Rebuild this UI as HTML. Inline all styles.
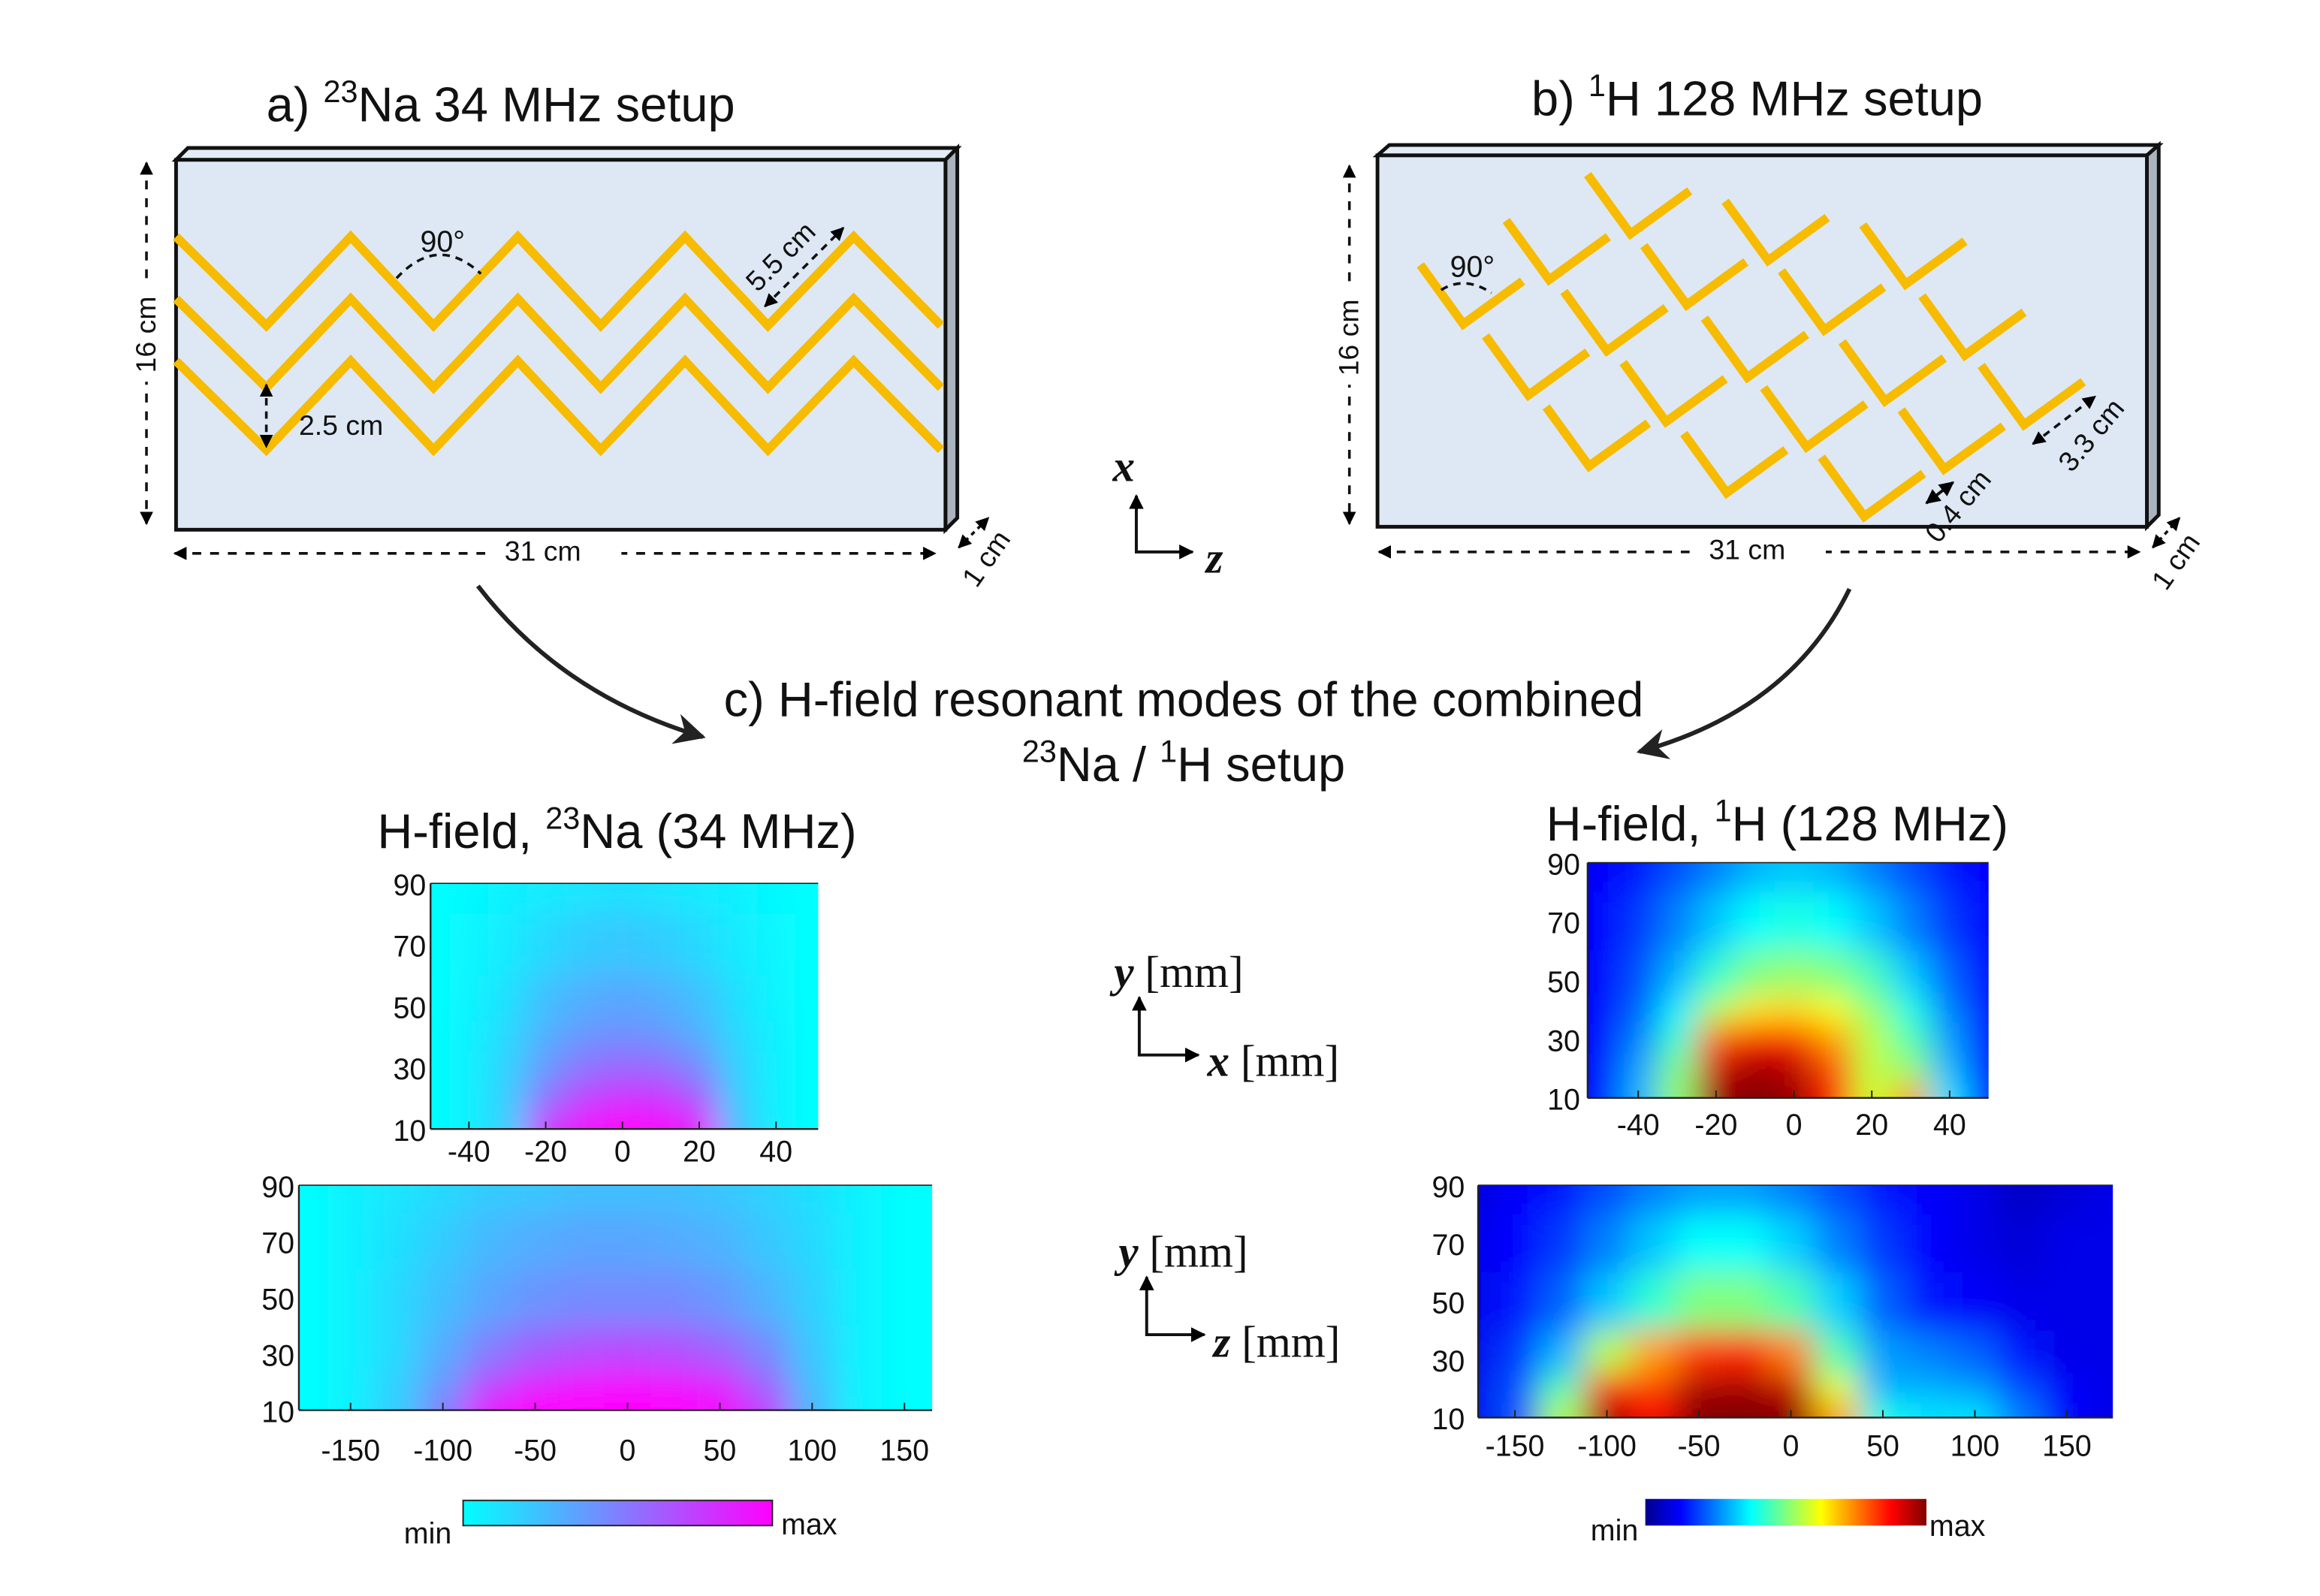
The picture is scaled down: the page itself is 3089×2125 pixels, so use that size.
<!DOCTYPE html>
<html><head><meta charset="utf-8"><style>
html,body{margin:0;padding:0;background:#fff}
svg{display:block}
text{font-family:"Liberation Sans",sans-serif;fill:#111}
.t{font-size:33px}
.ser{font-family:"Liberation Serif",serif;font-size:30px}
</style></head><body>
<svg id="fig" width="3089" height="2125" viewBox="0 0 1568 1078.6" preserveAspectRatio="none" xmlns="http://www.w3.org/2000/svg">
<defs>
<marker id="ah" viewBox="0 0 10 10" refX="9" refY="5" markerWidth="5" markerHeight="5" orient="auto-start-reverse"><path d="M0,0L10,5L0,10z" fill="#000"/></marker>
<marker id="ah2" viewBox="0 0 10 10" refX="9" refY="5" markerWidth="9" markerHeight="7" orient="auto"><path d="M0,0L10,5L0,10L3,5z" fill="#222"/></marker>
<filter id="bl" x="0" y="0" width="1" height="1"><feGaussianBlur stdDeviation="11" edgeMode="duplicate"/></filter>
<linearGradient id="cmL" x1="0" x2="1"><stop offset="0" stop-color="#00ffff"/><stop offset="1" stop-color="#ff00ff"/></linearGradient>
<linearGradient id="cmR" x1="0" x2="1"><stop offset="0" stop-color="#00008f"/><stop offset="0.125" stop-color="#0000ff"/><stop offset="0.375" stop-color="#00ffff"/><stop offset="0.625" stop-color="#ffff00"/><stop offset="0.875" stop-color="#ff0000"/><stop offset="1" stop-color="#800000"/></linearGradient>
</defs>

<g>
<text class="t" x="180" y="82">a)  <tspan font-size="21" dy="-13">23</tspan><tspan dy="13">Na 34 MHz setup</tspan></text>
<polygon points="119,108 127,100 647,100 639,108" fill="#e3ecf5" stroke="#111" stroke-width="2.5"/>
<polygon points="639,108 647,100 647,350 639,358" fill="#aab4be" stroke="#111" stroke-width="2.5"/>
<rect x="119" y="108" width="520" height="250" fill="#dde8f4" stroke="#111" stroke-width="2.5"/>
<g id="zig" fill="none" stroke="#f7bb00" stroke-width="6"></g>
<path d="M268,188 Q296,158 325,185" fill="none" stroke="#111" stroke-width="1.8" stroke-dasharray="5,4"/>
<text x="284" y="170" font-size="20">90°</text>
<line x1="517" y1="207" x2="570" y2="154" stroke="#111" stroke-width="1.8" stroke-dasharray="5,4" marker-start="url(#ah)" marker-end="url(#ah)"/>
<text x="0" y="0" font-size="19" transform="translate(512,198) rotate(-45)">5.5 cm</text>
<line x1="180" y1="260" x2="180" y2="302" stroke="#111" stroke-width="1.8" stroke-dasharray="5,4" marker-start="url(#ah)" marker-end="url(#ah)"/>
<text x="202" y="294" font-size="19">2.5 cm</text>
<line x1="99" y1="110" x2="99" y2="354" stroke="#111" stroke-width="1.8" stroke-dasharray="6,6" marker-start="url(#ah)" marker-end="url(#ah)"/>
<rect x="86" y="192" width="26" height="66" fill="#fff"/>
<text font-size="19" transform="translate(105,252) rotate(-90)">16 cm</text>
<line x1="118" y1="374" x2="632" y2="374" stroke="#111" stroke-width="1.8" stroke-dasharray="6,6" marker-start="url(#ah)" marker-end="url(#ah)"/>
<rect x="328" y="362" width="92" height="24" fill="#fff"/>
<text x="341" y="379" font-size="19">31 cm</text>
<line x1="648" y1="370" x2="668" y2="350" stroke="#111" stroke-width="1.8" stroke-dasharray="3,3" marker-start="url(#ah)" marker-end="url(#ah)"/>
<text font-size="19" transform="translate(660,398) rotate(-55)">1 cm</text>
</g>

<g>
<text class="ser" x="752" y="325" font-style="italic" font-weight="bold" font-size="28">x</text>
<polyline points="768,335 768,373 806,373" fill="none" stroke="#111" stroke-width="2" marker-start="url(#ah)" marker-end="url(#ah)"/>
<text class="ser" x="815" y="387" font-style="italic" font-weight="bold" font-size="28">z</text>
</g>

<g>
<text class="t" x="1035" y="78">b) <tspan font-size="21" dy="-13">1</tspan><tspan dy="13">H 128 MHz setup</tspan></text>
<polygon points="931,105 939,98 1459,98 1451,105" fill="#e3ecf5" stroke="#111" stroke-width="2.5"/>
<polygon points="1451,105 1459,98 1459,348 1451,356" fill="#aab4be" stroke="#111" stroke-width="2.5"/>
<rect x="931" y="105" width="520" height="251" fill="#dde8f4" stroke="#111" stroke-width="2.5"/>
<g id="vs" fill="none" stroke="#f7bb00" stroke-width="6" stroke-linejoin="miter"></g>
<path d="M974,196 Q990,186 1008,198" fill="none" stroke="#111" stroke-width="1.8" stroke-dasharray="5,4"/>
<text x="980" y="187" font-size="20">90°</text>
<line x1="1374" y1="300" x2="1416" y2="268" stroke="#111" stroke-width="1.8" stroke-dasharray="5,4" marker-start="url(#ah)" marker-end="url(#ah)"/>
<text font-size="19" transform="translate(1400,320) rotate(-50)">3.3 cm</text>
<line x1="1302" y1="340" x2="1320" y2="326" stroke="#111" stroke-width="2" marker-start="url(#ah)" marker-end="url(#ah)"/>
<text font-size="19" transform="translate(1310,368) rotate(-50)">0.4 cm</text>
<line x1="912" y1="112" x2="912" y2="354" stroke="#111" stroke-width="1.8" stroke-dasharray="6,6" marker-start="url(#ah)" marker-end="url(#ah)"/>
<rect x="899" y="194" width="26" height="66" fill="#fff"/>
<text font-size="19" transform="translate(918,254) rotate(-90)">16 cm</text>
<line x1="932" y1="373" x2="1446" y2="373" stroke="#111" stroke-width="1.8" stroke-dasharray="6,6" marker-start="url(#ah)" marker-end="url(#ah)"/>
<rect x="1142" y="360" width="92" height="24" fill="#fff"/>
<text x="1155" y="378" font-size="19">31 cm</text>
<line x1="1455" y1="370" x2="1473" y2="350" stroke="#111" stroke-width="1.8" stroke-dasharray="3,3" marker-start="url(#ah)" marker-end="url(#ah)"/>
<text font-size="19" transform="translate(1464,400) rotate(-55)">1 cm</text>
</g>

<path d="M323,396 Q380,470 475,498" fill="none" stroke="#222" stroke-width="3" marker-end="url(#ah2)"/>
<path d="M1250,398 Q1210,480 1108,508" fill="none" stroke="#222" stroke-width="3" marker-end="url(#ah2)"/>

<text class="t" x="800" y="484" text-anchor="middle">c) H-field resonant modes of the combined</text>
<text class="t" x="800" y="528" text-anchor="middle"><tspan font-size="21" dy="-13">23</tspan><tspan dy="13">Na / </tspan><tspan font-size="21" dy="-13">1</tspan><tspan dy="13">H setup</tspan></text>

<text class="t" x="255" y="573">H-field, <tspan font-size="21" dy="-13">23</tspan><tspan dy="13">Na (34 MHz)</tspan></text>
<text class="t" x="1045" y="568">H-field, <tspan font-size="21" dy="-13">1</tspan><tspan dy="13">H (128 MHz)</tspan></text>

<g>
<text class="ser" x="753" y="667"><tspan font-style="italic" font-weight="bold">y</tspan> [mm]</text>
<polyline points="770,674 770,713 810,713" fill="none" stroke="#111" stroke-width="2" marker-start="url(#ah)" marker-end="url(#ah)"/>
<text class="ser" x="816" y="727"><tspan font-style="italic" font-weight="bold">x</tspan> [mm]</text>
</g>
<g>
<text class="ser" x="756" y="856"><tspan font-style="italic" font-weight="bold">y</tspan> [mm]</text>
<polyline points="775,863 775,902 814,902" fill="none" stroke="#111" stroke-width="2" marker-start="url(#ah)" marker-end="url(#ah)"/>
<text class="ser" x="820" y="917"><tspan font-style="italic" font-weight="bold">z</tspan> [mm]</text>
</g>

<g id="maps"></g>

<g>
<rect x="313" y="1014" width="209" height="17" fill="url(#cmL)" stroke="#222" stroke-width="1"/>
<text x="273" y="1043" font-size="20">min</text><text x="528" y="1037" font-size="20">max</text>
</g>
<g>
<rect x="1112" y="1013" width="190" height="18" fill="url(#cmR)"/>
<text x="1075" y="1041" font-size="20">min</text><text x="1304" y="1038" font-size="20">max</text>
</g>
</svg>
<script>
const NS="http://www.w3.org/2000/svg";
const xCols=[-50,-40,-30,-20,-10,0,10,20,30,40,50];
const zCols=[-175,-150,-125,-100,-75,-50,-25,0,25,50,75,100,125,150,175];
const rowsTop=[90,70,50,40,30,20,10];
const rowsBot=[90,70,50,30,20,10];
const naTop=[
[0,0.02,0.05,0.08,0.1,0.12,0.1,0.08,0.05,0.02,0],
[0,0.03,0.08,0.15,0.2,0.22,0.2,0.15,0.08,0.03,0],
[0,0.04,0.12,0.25,0.32,0.35,0.32,0.25,0.12,0.04,0],
[0,0.05,0.15,0.32,0.42,0.45,0.42,0.32,0.15,0.05,0],
[0,0.05,0.18,0.4,0.55,0.6,0.58,0.45,0.18,0.05,0],
[0,0.05,0.2,0.55,0.75,0.82,0.8,0.65,0.2,0.05,0],
[0,0.05,0.2,0.8,0.95,1,0.98,0.9,0.25,0.05,0]];
const naBot=[
[0,0.05,0.1,0.15,0.2,0.22,0.25,0.25,0.25,0.22,0.18,0.12,0.05,0,0],
[0,0.05,0.12,0.2,0.28,0.32,0.35,0.35,0.33,0.3,0.22,0.15,0.05,0,0],
[0,0.05,0.15,0.25,0.35,0.42,0.45,0.45,0.45,0.4,0.3,0.18,0.05,0,0],
[0,0.05,0.15,0.32,0.5,0.62,0.68,0.7,0.68,0.6,0.45,0.22,0.05,0,0],
[0,0.05,0.18,0.4,0.7,0.85,0.92,0.95,0.92,0.85,0.6,0.25,0.05,0,0],
[0,0.05,0.2,0.5,0.9,1,1,1,1,0.95,0.75,0.3,0.05,0,0]];
const hTop=[
[0.12,0.15,0.2,0.25,0.3,0.32,0.3,0.25,0.2,0.15,0.12],
[0.13,0.18,0.25,0.32,0.38,0.4,0.38,0.32,0.25,0.18,0.13],
[0.13,0.2,0.3,0.42,0.5,0.52,0.5,0.44,0.32,0.22,0.13],
[0.13,0.22,0.36,0.55,0.65,0.66,0.62,0.52,0.4,0.25,0.13],
[0.13,0.25,0.42,0.78,0.86,0.84,0.72,0.56,0.45,0.28,0.13],
[0.13,0.28,0.5,0.92,0.97,0.94,0.8,0.56,0.52,0.3,0.13],
[0.13,0.3,0.52,0.98,1,0.98,0.85,0.58,0.72,0.35,0.15]];
const hBot=[
[0.08,0.12,0.15,0.2,0.25,0.28,0.28,0.25,0.2,0.15,0.12,0.1,0.06,0.08,0.1],
[0.1,0.13,0.18,0.25,0.32,0.38,0.38,0.33,0.25,0.18,0.13,0.1,0.08,0.1,0.1],
[0.1,0.15,0.22,0.32,0.42,0.5,0.5,0.45,0.33,0.22,0.15,0.12,0.1,0.1,0.1],
[0.1,0.18,0.3,0.55,0.72,0.82,0.84,0.75,0.45,0.28,0.25,0.22,0.15,0.1,0.1],
[0.1,0.2,0.45,0.85,0.82,0.96,0.97,0.93,0.6,0.3,0.3,0.28,0.2,0.12,0.1],
[0.1,0.2,0.55,0.97,0.88,1,1,1,0.72,0.4,0.35,0.35,0.25,0.12,0.1]];
const xTicks=[-40,-20,0,20,40];
const zTicks=[-150,-100,-50,0,50,100,150];
const yTicks=[90,70,50,30,10];

function el(t,a,p){const e=document.createElementNS(NS,t);for(const k in a)e.setAttribute(k,a[k]);p.appendChild(e);return e;}
function cyma(v){return `rgb(${Math.round(255*v)},${Math.round(255*(1-v))},255)`;}
function jet(v){const st=[[0,0,0,143],[0.125,0,0,255],[0.375,0,255,255],[0.625,255,255,0],[0.875,255,0,0],[1,128,0,0]];
 for(let i=1;i<st.length;i++){if(v<=st[i][0]){const a=st[i-1],b=st[i],t=(v-a[0])/(b[0]-a[0]);return `rgb(${Math.round(a[1]+t*(b[1]-a[1]))},${Math.round(a[2]+t*(b[2]-a[2]))},${Math.round(a[3]+t*(b[3]-a[3]))})`;}}return 'rgb(128,0,0)';}

const maps=document.getElementById('maps');
function heatmap(name,px,py,pw,ph,xd,cols,rows,vals,cmap,ticksX,tickY,labX,labYx,yd){
 const g=el('g',{},maps);
 
 
 const sx=v=>px+(v-xd[0])/(xd[1]-xd[0])*pw;
 const sy=v=>py+ph-(v-yd[0])/(yd[1]-yd[0])*ph;
 const cid='c'+name;
 const cp=el('clipPath',{id:cid},g);el('rect',{x:px,y:py,width:pw,height:ph},cp);
 const cg=el('g',{'clip-path':`url(#${cid})`},g);
 const bg=el('g',{filter:'url(#bl)'},cg);
 for(let r=0;r<rows.length;r++)for(let c=0;c<cols.length;c++){
  const x0=c==0?sx(cols[0])-60:(sx(cols[c-1])+sx(cols[c]))/2;
  const x1=c==cols.length-1?sx(cols[c])+60:(sx(cols[c])+sx(cols[c+1]))/2;
  const y0=r==0?sy(rows[0])-60:(sy(rows[r-1])+sy(rows[r]))/2;
  const y1=r==rows.length-1?sy(rows[r])+60:(sy(rows[r])+sy(rows[r+1]))/2;
  const cell=el('rect',{x:x0,y:y0,width:x1-x0+0.5,height:y1-y0+0.5,fill:cmap(vals[r][c])},bg);
  
  
 }
 el('line',{x1:px,y1:py+ph,x2:px+pw,y2:py+ph,stroke:'#222','stroke-width':1.2},g);
 el('line',{x1:px,y1:py,x2:px,y2:py+ph,stroke:'#222','stroke-width':1.2},g);
 el('line',{x1:px,y1:py,x2:px+pw,y2:py,stroke:'#222','stroke-width':0.8},g);
 ticksX.forEach(t=>{el('line',{x1:sx(t),y1:py+ph,x2:sx(t),y2:py+ph-5,stroke:'#222','stroke-width':1},g);
  const tx=el('text',{x:sx(t),y:labX,'text-anchor':'middle','font-size':20},g);tx.textContent=t;
  });
 tickY.forEach(t=>{const ty=el('text',{x:labYx,y:sy(t)+8,'text-anchor':'end','font-size':20},g);ty.textContent=t;
  });
}
heatmap('heatmap-na-xy',291,597,262,166,[-50,51],xCols,rowsTop,naTop,cyma,xTicks,yTicks,785,288,[10,90]);
heatmap('heatmap-na-zy',202,801,428,152,[-178,165],zCols,rowsBot,naBot,cyma,zTicks,yTicks,987,199,[10,90]);
heatmap('heatmap-h-xy',1073,583,271,159,[-53,50],xCols,rowsTop,hTop,jet,xTicks,yTicks,767,1068,[10,90]);
heatmap('heatmap-h-zy',999,801,429,157,[-170,175],zCols,rowsBot,hBot,jet,zTicks,yTicks,984,990,[10,90]);

const zg=document.getElementById('zig');
[160,202,244].forEach((y0,i)=>{let pts=[];const xs=[119,180,237,293,350,406,463,519,577,636];
 xs.forEach((x,k)=>pts.push(x+','+(k%2?y0+60:y0)));
 const p=el('polyline',{points:pts.join(' ')},zg);
 
 });
const vg=document.getElementById('vs');
const verts=[[989,219],[1047,189],[1102,158],[1033,267],[1086,237],[1140,206],[1195,176],[1074,315],[1126,285],[1181,255],[1233,223],[1288,192],[1167,333],[1221,302],[1274,271],[1328,240],[1260,349],[1314,317],[1368,287]];
verts.forEach(v=>{const p=el('polyline',{points:`${v[0]-29},${v[1]-40} ${v[0]},${v[1]} ${v[0]+40},${v[1]-29}`},vg);
 
 });
</script>
</body></html>
